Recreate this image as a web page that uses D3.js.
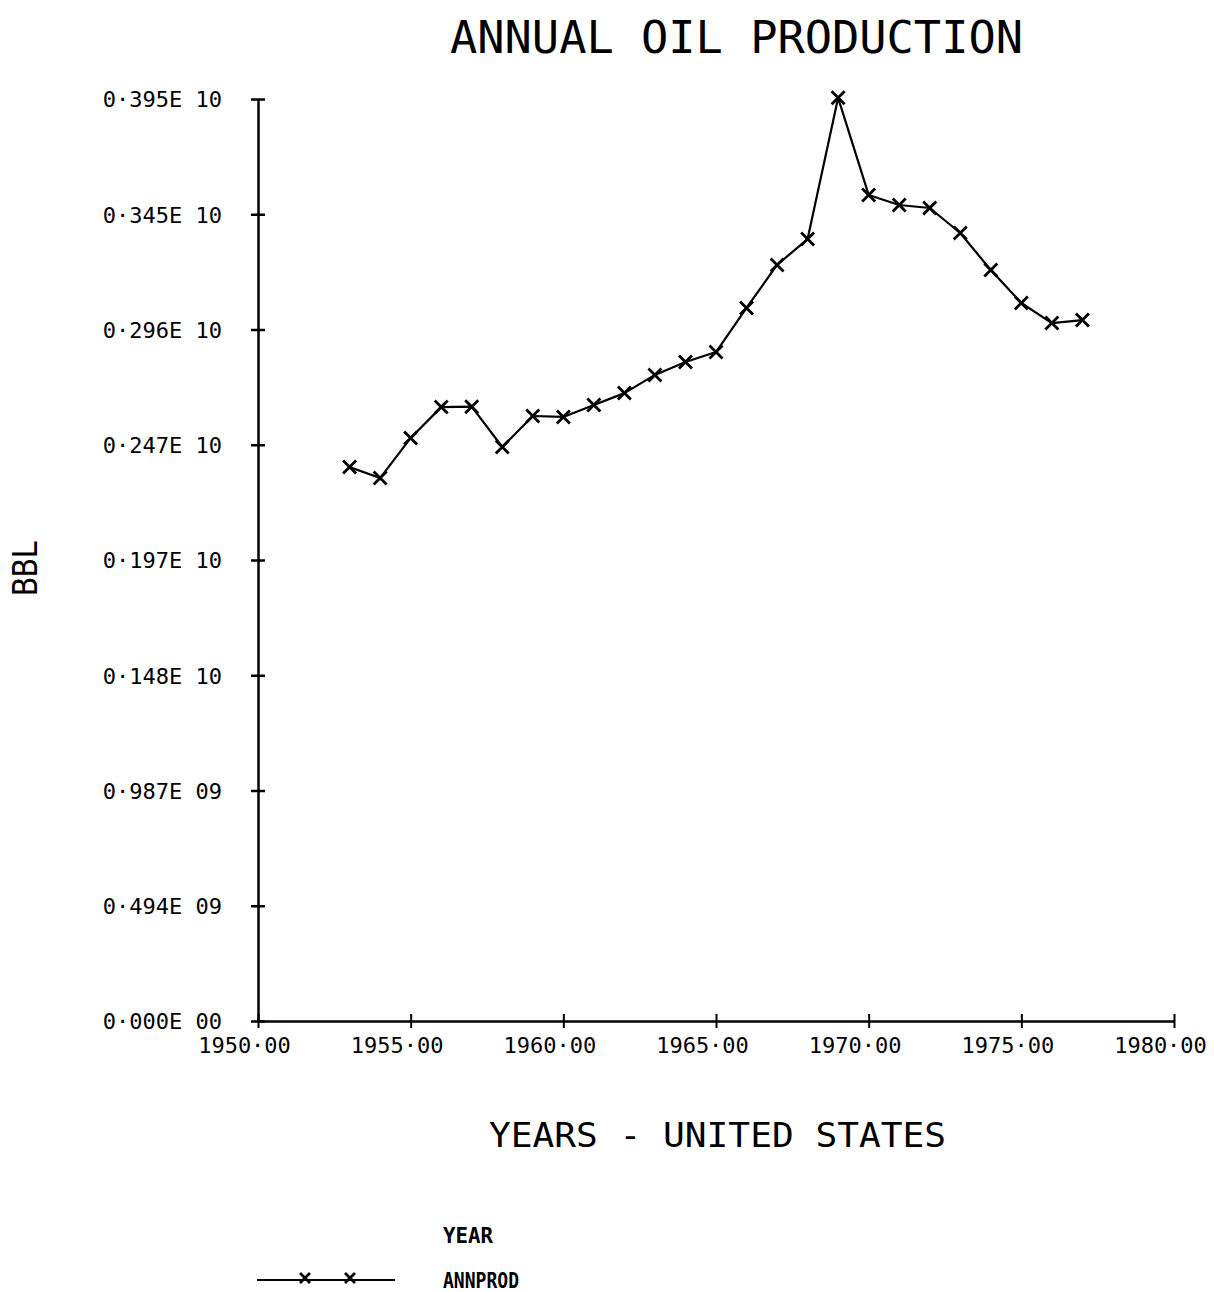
<!DOCTYPE html>
<html>
<head>
<meta charset="utf-8">
<script src="https://cdn.jsdelivr.net/npm/d3@7/dist/d3.min.js"></script>
<style>
  html, body { margin: 0; padding: 0; background: #fff; }
  svg { display: block; }
  text { font-family: "DejaVu Sans Mono", monospace; fill: #000; }
</style>
</head>
<body>
<svg id="chart" width="1214" height="1292"></svg>
<script>
// ---- data ----
const years = [1953,1954,1955,1956,1957,1958,1959,1960,1961,1962,1963,1964,1965,
               1966,1967,1968,1969,1970,1971,1972,1973,1974,1975,1976,1977];
const annprod = [2.373e9,2.326e9,2.498e9,2.630e9,2.632e9,2.459e9,2.592e9,2.588e9,2.639e9,2.690e9,
                 2.768e9,2.823e9,2.866e9,3.055e9,3.239e9,3.350e9,3.955e9,3.539e9,3.496e9,3.483e9,
                 3.376e9,3.217e9,3.076e9,2.990e9,3.003e9];
const yTickValues = [0,0.49375e9,0.9875e9,1.48125e9,1.975e9,2.46875e9,2.9625e9,3.45625e9,3.95e9];
const yTickLabels = ["0\u00B7000E 00","0\u00B7494E 09","0\u00B7987E 09","0\u00B7148E 10","0\u00B7197E 10",
                     "0\u00B7247E 10","0\u00B7296E 10","0\u00B7345E 10","0\u00B7395E 10"];
const xTickValues = [1950,1955,1960,1965,1970,1975,1980];
const xTickLabels = ["1950\u00B700","1955\u00B700","1960\u00B700","1965\u00B700","1970\u00B700","1975\u00B700","1980\u00B700"];
const titleText = "ANNUAL OIL PRODUCTION";
const xTitle = "YEARS - UNITED STATES";
const yTitle = "BBL";
const legendHeader = "YEAR";
const seriesName = "ANNPROD";

// ---- layout ----
const svg = d3.select("#chart");
const x = d3.scaleLinear().domain([1950,1980]).range([258,1174]);
const y = d3.scaleLinear().domain([0,3.95e9]).range([1021,99]);

// title
svg.append("text").attr("x",450).attr("y",53)
  .attr("textLength",573).attr("lengthAdjust","spacingAndGlyphs")
  .style("font-size","44px").text(titleText);

// y axis
const yAxis = d3.axisLeft(y).tickValues(yTickValues)
  .tickFormat((d,i)=>yTickLabels[i]).tickSize(0).tickPadding(36);
const gy = svg.append("g").attr("transform","translate(258,0)").call(yAxis);
gy.select(".domain").attr("stroke","#000").attr("stroke-width",2.5);
gy.selectAll(".tick").append("line").attr("x1",-7).attr("x2",7)
  .attr("stroke","#000").attr("stroke-width",2.5);
gy.selectAll(".tick text").style("font-size","22px").style("font-family","'DejaVu Sans Mono', monospace")
  .attr("fill","#000").attr("dy","0.36em");

// x axis
const xAxis = d3.axisBottom(x).tickValues(xTickValues)
  .tickFormat((d,i)=>xTickLabels[i]).tickSize(0).tickPadding(16);
const gx = svg.append("g").attr("transform","translate(0,1021)").call(xAxis);
gx.select(".domain").attr("stroke","#000").attr("stroke-width",2.5);
gx.selectAll(".tick").append("line").attr("y1",-7).attr("y2",7)
  .attr("stroke","#000").attr("stroke-width",2);
gx.selectAll(".tick text").style("font-size","22px").style("font-family","'DejaVu Sans Mono', monospace")
  .attr("fill","#000").attr("dx",-14);

// axis titles
svg.append("text").attr("x",489).attr("y",1147)
  .attr("textLength",457).attr("lengthAdjust","spacingAndGlyphs")
  .style("font-size","33px").text(xTitle);
svg.append("text").attr("transform","translate(37,596) rotate(-90)")
  .attr("textLength",56).attr("lengthAdjust","spacingAndGlyphs")
  .style("font-size","33px").text(yTitle);

// series
const data = years.map((yr,i)=>({yr, v: annprod[i]}));
const line = d3.line().x(d=>x(d.yr)).y(d=>y(d.v));
svg.append("path").datum(data).attr("d",line)
  .attr("fill","none").attr("stroke","#000").attr("stroke-width",2.2)
  .attr("stroke-linejoin","round");

function cross(g, cx, cy, s) {
  g.append("path")
    .attr("d",`M${cx-s},${cy-s}L${cx+s},${cy+s}M${cx-s},${cy+s}L${cx+s},${cy-s}`)
    .attr("stroke","#000").attr("stroke-width",2.8).attr("fill","none");
}
const gm = svg.append("g");
data.forEach(d=>cross(gm, x(d.yr), y(d.v), 6.5));

// legend
svg.append("text").attr("x",443).attr("y",1243)
  .attr("textLength",50).attr("lengthAdjust","spacingAndGlyphs")
  .style("font-size","21px").style("font-weight","bold").text(legendHeader);
svg.append("text").attr("x",443).attr("y",1288)
  .attr("textLength",76).attr("lengthAdjust","spacingAndGlyphs")
  .style("font-size","21px").style("font-weight","bold").text(seriesName);
svg.append("line").attr("x1",257).attr("x2",395).attr("y1",1280).attr("y2",1280)
  .attr("stroke","#000").attr("stroke-width",2);
cross(svg, 305, 1278, 5);
cross(svg, 350, 1278, 5);
</script>
</body>
</html>
